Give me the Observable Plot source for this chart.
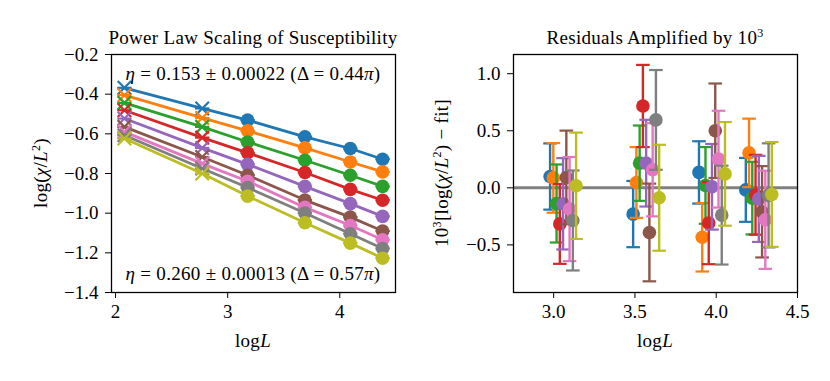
<!DOCTYPE html>
<html><head><meta charset="utf-8">
<script src="https://cdn.jsdelivr.net/npm/d3@7"></script>
<script src="https://cdn.jsdelivr.net/npm/@observablehq/plot@0.6"></script>
<style>
body{margin:0;background:#fff;}
#fig{position:relative;width:830px;height:381px;font-family:"Liberation Serif",serif;color:#000;overflow:hidden;}
#fig svg{position:absolute;top:0;}
#fig svg text{font-family:"Liberation Serif",serif !important;}
.lbl{position:absolute;white-space:nowrap;font-size:19px;line-height:1;letter-spacing:0.3px;transform:translate(-50%,-50%);}
.rot{transform:translate(-50%,-50%) rotate(-90deg);}
sup{font-size:12px;vertical-align:7px;line-height:0;}
</style></head><body><div id="fig"></div>
<script>
// ---- data ----
const seriesNames = ["s1","s2","s3","s4","s5","s6","s7","s8","s9"];
const seriesColors = ["#1f77b4","#ff7f0e","#2ca02c","#d62728","#9467bd","#8c564b","#e377c2","#7f7f7f","#bcbd22"];
const logL = [2.079, 2.773, 3.178, 3.689, 4.094, 4.382];
const markerKind = ["cross","cross","circle","circle","circle","circle"];
const logChi = [
  [-0.368, -0.472, -0.531, -0.615, -0.674, -0.728],
  [-0.405, -0.520, -0.585, -0.671, -0.742, -0.792],
  [-0.444, -0.565, -0.641, -0.733, -0.809, -0.865],
  [-0.481, -0.619, -0.696, -0.795, -0.880, -0.935],
  [-0.523, -0.671, -0.754, -0.865, -0.952, -1.016],
  [-0.565, -0.717, -0.809, -0.934, -1.020, -1.090],
  [-0.590, -0.750, -0.839, -0.971, -1.062, -1.134],
  [-0.607, -0.775, -0.871, -0.999, -1.104, -1.178],
  [-0.624, -0.800, -0.914, -1.048, -1.151, -1.227]
];
const residualLIndex = [2, 3, 4, 5];
const residualShift = [-0.20, -0.18, -0.16, -0.14, -0.12, -0.10, -0.08, -0.06, -0.04];
const residuals = [
  [ 0.099, -0.230,  0.135, -0.018],
  [ 0.087,  0.047, -0.433,  0.306],
  [-0.137,  0.216,  0.021, -0.090],
  [-0.316,  0.717, -0.309, -0.061],
  [-0.140,  0.216,  0.009, -0.097],
  [ 0.091, -0.391,  0.500, -0.210],
  [-0.186,  0.158,  0.251, -0.280],
  [-0.286,  0.595, -0.239, -0.066],
  [ 0.018, -0.087,  0.122, -0.058]
];
const residualErr = [
  [0.290, 0.290, 0.273, 0.280],
  [0.305, 0.310, 0.300, 0.300],
  [0.342, 0.330, 0.336, 0.318],
  [0.350, 0.360, 0.360, 0.350],
  [0.400, 0.380, 0.375, 0.377],
  [0.410, 0.428, 0.414, 0.400],
  [0.456, 0.408, 0.424, 0.430],
  [0.438, 0.437, 0.433, 0.456],
  [0.466, 0.464, 0.454, 0.459]
];
const leftXTicks = [2, 3, 4];
const leftYTicks = [-1.4, -1.2, -1.0, -0.8, -0.6, -0.4, -0.2];
const rightXTicks = [3.0, 3.5, 4.0, 4.5];
const rightYTicks = [-0.5, 0.0, 0.5, 1.0];

// ---- tidy tables ----
const chiRows = seriesNames.flatMap((s, i) => logL.map((x, j) => ({s, i, x, y: logChi[i][j], kind: markerKind[j]})));
const resRows = seriesNames.flatMap((s, i) => residualLIndex.map((j, k) => ({
  s, i, x: logL[j] + residualShift[i], y: residuals[i][k],
  lo: residuals[i][k] - residualErr[i][k], hi: residuals[i][k] + residualErr[i][k]
})));

// horizontal cap symbol for error bars
const capSymbol = {draw(ctx, size) { const r = Math.sqrt(size / Math.PI); ctx.moveTo(-r, 0); ctx.lineTo(r, 0); }};

const fig = document.getElementById("fig");
const common = {
  width: 415, height: 381, marginTop: 54, marginBottom: 89,
  style: {fontFamily: "'Liberation Serif', serif", fontSize: "19px", background: "transparent", overflow: "visible"},
  color: {domain: seriesNames, range: seriesColors}
};

const leftMarks = [];
seriesNames.forEach(s => {
  const rows = chiRows.filter(d => d.s === s);
  leftMarks.push(
    Plot.line(rows, {x: "x", y: "y", stroke: "s", strokeWidth: 2.8}),
    Plot.dot(rows, {x: "x", y: "y", symbol: capSymbol, r: 7.2, stroke: "s", strokeWidth: 2.2}),
    Plot.dot(rows.filter(d => d.kind === "cross"), {x: "x", y: "y", symbol: "times", r: 6.2, stroke: "s", strokeWidth: 2.2}),
    Plot.dot(rows.filter(d => d.kind === "circle"), {x: "x", y: "y", symbol: "circle", r: 6.8, fill: "s", stroke: "none"})
  );
});
leftMarks.push(Plot.frame({stroke: "black", strokeWidth: 1.3}));

const left = Plot.plot({
  ...common, marginLeft: 111, marginRight: 20,
  x: {domain: [1.964, 4.497], ticks: leftXTicks, tickFormat: d3.format("d"), tickSize: 6, tickPadding: 6, label: null},
  y: {domain: [-1.4, -0.2], ticks: leftYTicks, tickFormat: d3.format(".1f"), tickSize: 6, tickPadding: 7, label: null},
  marks: leftMarks
});
left.style.left = "0px";
fig.appendChild(left);

const rightMarks = [Plot.ruleY([0], {stroke: "#808080", strokeWidth: 3})];
seriesNames.forEach(s => {
  const rows = resRows.filter(d => d.s === s);
  rightMarks.push(
    Plot.ruleX(rows, {x: "x", y1: "lo", y2: "hi", stroke: "s", strokeWidth: 2.4}),
    Plot.dot(rows, {x: "x", y: "lo", symbol: capSymbol, r: 6.8, stroke: "s", strokeWidth: 2.2}),
    Plot.dot(rows, {x: "x", y: "hi", symbol: capSymbol, r: 6.8, stroke: "s", strokeWidth: 2.2}),
    Plot.dot(rows, {x: "x", y: "y", symbol: "circle", r: 6.8, fill: "s", stroke: "none"})
  );
});
rightMarks.push(Plot.frame({stroke: "black", strokeWidth: 1.3}));

const right = Plot.plot({
  ...common, marginLeft: 98, marginRight: 33,
  x: {domain: [2.753, 4.5], ticks: rightXTicks, tickFormat: d3.format(".1f"), tickSize: 6, tickPadding: 6, label: null},
  y: {domain: [-0.917, 1.168], ticks: rightYTicks, tickFormat: d3.format(".1f"), tickSize: 6, tickPadding: 7, label: null},
  marks: rightMarks
});
right.style.left = "415px";
fig.appendChild(right);

// ---- text labels ----
function addLabel(html, x, y, rot) {
  const d = document.createElement("div");
  d.className = "lbl" + (rot ? " rot" : "");
  d.style.left = x + "px"; d.style.top = y + "px";
  d.innerHTML = html;
  fig.appendChild(d);
}
addLabel("Power Law Scaling of Susceptibility", 253, 37);
addLabel("Residuals Amplified by 10<sup>3</sup>", 655, 37);
addLabel("<i>η</i> = 0.153 ± 0.00022 (Δ = 0.44<i>π</i>)", 253, 73);
addLabel("<i>η</i> = 0.260 ± 0.00013 (Δ = 0.57<i>π</i>)", 253, 273);
addLabel("log<i>L</i>", 253, 340);
addLabel("log<i>L</i>", 655, 340);
addLabel("log(<i>χ</i>/<i>L</i><sup>2</sup>)", 40, 173, true);
addLabel("10<sup>3</sup>[log(<i>χ</i>/<i>L</i><sup>2</sup>) − fit]", 441, 173, true);
</script>
</body></html>
